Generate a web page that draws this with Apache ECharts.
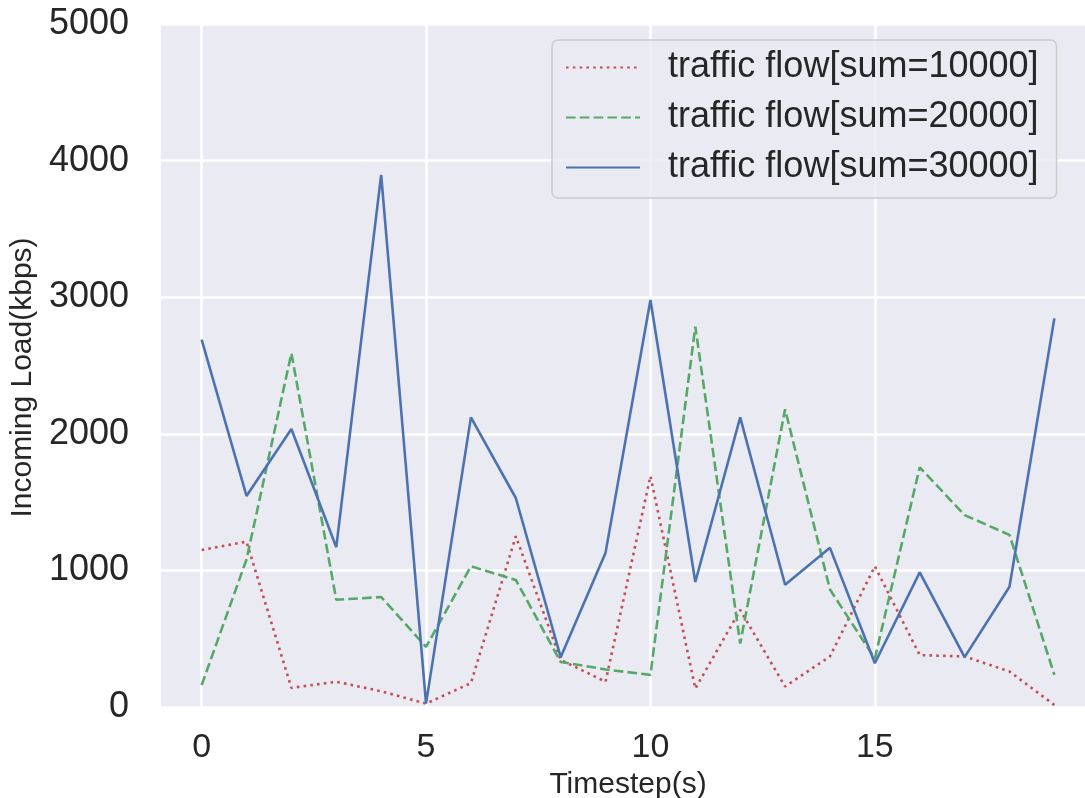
<!DOCTYPE html>
<html>
<head>
<meta charset="utf-8">
<script src="https://cdn.jsdelivr.net/npm/echarts@6/dist/echarts.min.js"></script>
<style>
  html, body { margin: 0; padding: 0; background: #ffffff; }
  #chart { width: 1085px; height: 798px; }
</style>
</head>
<body>
<div id="chart"></div>
<script>
// Timesteps 0..19
const timesteps = [0, 1, 2, 3, 4, 5, 6, 7, 8, 9, 10, 11, 12, 13, 14, 15, 16, 17, 18, 19];

// Incoming load (kbps) per timestep for each total traffic flow
const flow10000 = [1150, 1210, 140, 185, 115, 25, 175, 1250, 345, 185, 1690, 135, 710, 150, 370, 1030, 380, 370, 260, 15];
const flow20000 = [160, 1080, 2590, 785, 805, 440, 1030, 930, 330, 275, 235, 2785, 465, 2180, 860, 355, 1755, 1405, 1260, 235];
const flow30000 = [2690, 1545, 2035, 1170, 3895, 25, 2120, 1530, 365, 1130, 2980, 915, 2120, 895, 1165, 320, 985, 365, 880, 2845];

const seriesNames = [
  'traffic flow[sum=10000]',
  'traffic flow[sum=20000]',
  'traffic flow[sum=30000]'
];

const pair = (vals) => timesteps.map((t, i) => [t, vals[i]]);

const FONT = 'Liberation Sans, Arial, sans-serif';
const TEXT = '#262626';

const chart = echarts.init(document.getElementById('chart'), null, { renderer: 'canvas' });

chart.setOption({
  animation: false,
  backgroundColor: '#ffffff',
  grid: {
    left: 159,
    right: -12,
    top: 24,
    bottom: 91,
    outerBoundsMode: 'none',
    containLabel: false,
    show: true,
    backgroundColor: '#EAEAF2',
    borderWidth: 0
  },
  xAxis: {
    type: 'value',
    min: -0.95,
    max: 19.95,
    name: 'Timestep(s)',
    nameLocation: 'middle',
    nameGap: 60,
    nameTextStyle: { fontFamily: FONT, fontSize: 30, color: TEXT },
    axisLine: { show: false },
    axisTick: { show: false },
    axisLabel: {
      showMinLabel: false,
      showMaxLabel: false,
      fontFamily: FONT,
      fontSize: 34,
      color: TEXT,
      margin: 24
    },
    splitLine: { show: true, lineStyle: { color: '#ffffff', width: 2.6 } }
  },
  yAxis: {
    type: 'value',
    min: 0,
    max: 5000,
    interval: 1000,
    name: 'Incoming Load(kbps)',
    nameLocation: 'middle',
    nameGap: 119,
    nameTextStyle: { fontFamily: FONT, fontSize: 30, color: TEXT, padding: [0, 24, 0, 0] },
    axisLine: { show: false },
    axisTick: { show: false },
    axisLabel: {
      fontFamily: FONT,
      fontSize: 36,
      color: TEXT,
      margin: 30,
      formatter: (v) => String(v)
    },
    splitLine: { show: true, lineStyle: { color: '#ffffff', width: 2.6 } }
  },
  legend: {
    left: 552,
    top: 40,
    orient: 'vertical',
    align: 'left',
    itemWidth: 74,
    itemHeight: 14,
    itemGap: 13,
    padding: [9, 18, 12, 13],
    backgroundColor: 'rgba(234,234,242,0.8)',
    borderColor: '#cccccc',
    borderWidth: 1.5,
    borderRadius: 6,
    itemStyle: { opacity: 0 },
    textStyle: {
      fontFamily: FONT,
      fontSize: 36,
      lineHeight: 37,
      color: TEXT,
      padding: [0, 0, 0, 23]
    },
    data: seriesNames
  },
  series: [
    {
      name: seriesNames[0],
      type: 'line',
      data: pair(flow10000),
      symbol: 'none',
      z: 3,
      lineStyle: { color: '#C44E52', width: 2.6, type: [2.6, 4.2], cap: 'butt' },
      itemStyle: { color: '#C44E52' }
    },
    {
      name: seriesNames[1],
      type: 'line',
      data: pair(flow20000),
      symbol: 'none',
      z: 4,
      lineStyle: { color: '#55A868', width: 2.6, type: [9.6, 4.2] },
      itemStyle: { color: '#55A868' }
    },
    {
      name: seriesNames[2],
      type: 'line',
      data: pair(flow30000),
      symbol: 'none',
      z: 5,
      lineStyle: { color: '#4C72B0', width: 2.6, type: 'solid' },
      itemStyle: { color: '#4C72B0' }
    }
  ]
});
</script>
</body>
</html>
